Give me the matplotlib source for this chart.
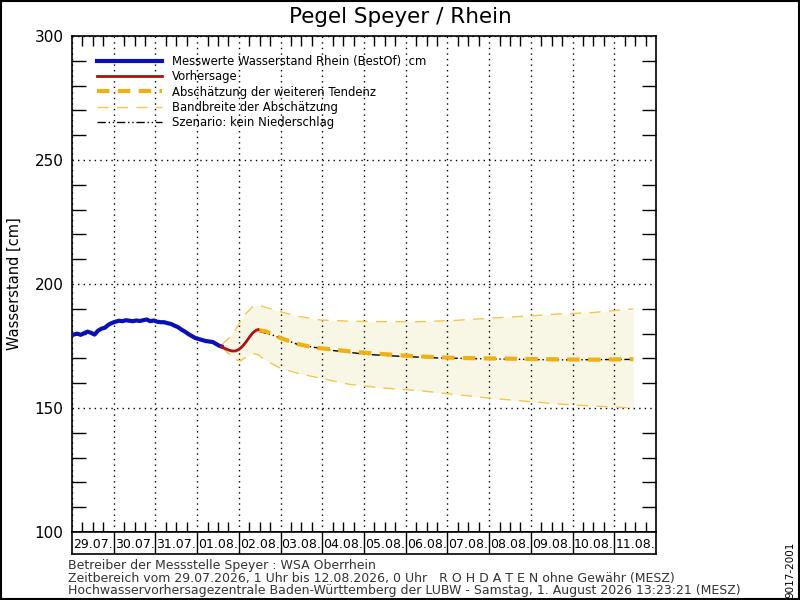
import matplotlib
matplotlib.use("Agg")
import matplotlib.pyplot as plt
from matplotlib.patches import Rectangle
from matplotlib.ticker import MultipleLocator, FixedLocator

plt.rcParams['font.family'] = ['DejaVu Sans']

# ---- data (x in hours since 29.07. 00:00) ----
meas_hours = [1, 3, 5, 7, 9, 11, 13, 15, 17, 19, 21, 23, 25, 27, 29, 31, 33, 35, 37, 39,
              41, 43, 45, 47, 49, 51, 53, 55, 57, 59, 61, 63, 65, 67, 69, 71, 73, 75, 77,
              79, 81, 83, 85, 86]
meas_vals = [179.6, 180.0, 179.5, 180.2, 180.8, 180.3, 179.6, 181.2, 182.0, 182.4, 183.6,
             184.3, 184.8, 185.2, 185.0, 185.4, 185.2, 185.0, 185.3, 185.1, 185.4, 185.7,
             185.0, 185.3, 184.8, 184.6, 184.6, 184.2, 183.9, 183.2, 182.6, 181.6, 180.8,
             179.8, 179.0, 178.2, 177.8, 177.4, 177.0, 176.8, 176.6, 175.8, 175.0, 174.8]

fc_hours = [86, 88, 90, 92, 94, 96, 98, 100, 102, 104, 106, 107]
fc_vals = [174.8, 174.0, 173.4, 173.0, 173.0, 173.6, 174.8, 176.5, 178.5, 180.3, 181.4, 181.6]

tend_hours = [107, 112, 120, 130, 140, 150, 160, 170, 180, 190, 200, 210, 220, 240, 260, 280, 300, 323]
tend_vals = [181.5, 180.8, 178.2, 175.8, 174.3, 173.6, 172.8, 172.2, 171.7, 171.2, 170.8,
             170.5, 170.2, 170.0, 169.8, 169.6, 169.5, 169.7]

scen_hours = [107, 115, 130, 150, 170, 190, 210, 240, 280, 323]
scen_vals = [181.0, 179.5, 175.6, 173.2, 171.6, 170.8, 170.2, 169.8, 169.4, 169.6]

band_hours = [86, 90, 94, 97, 100, 104, 107, 112, 120, 130, 143, 160, 180, 200, 220, 240,
              260, 280, 300, 323]
band_upper = [175.5, 178.0, 181.5, 185.0, 188.0, 191.0, 191.5, 190.5, 188.8, 187.0, 185.5,
              185.0, 184.8, 184.8, 185.3, 186.2, 187.0, 187.9, 188.5, 190.0]
band_lower = [174.5, 172.0, 169.5, 169.0, 170.5, 172.0, 171.5, 169.0, 166.0, 164.0, 162.0,
              159.5, 158.0, 157.0, 155.5, 154.0, 152.8, 151.6, 150.8, 150.0]

date_labels = ["29.07.", "30.07.", "31.07.", "01.08.", "02.08.", "03.08.", "04.08.",
               "05.08.", "06.08.", "07.08.", "08.08.", "09.08.", "10.08.", "11.08."]

legend_labels = ["Messwerte Wasserstand Rhein (BestOf)  cm", "Vorhersage",
                 "Abschätzung der weiteren Tendenz", "Bandbreite der Abschätzung",
                 "Szenario: kein Niederschlag"]

title = "Pegel Speyer / Rhein"
ylabel = "Wasserstand [cm]"
footer = ["Betreiber der Messstelle Speyer : WSA Oberrhein",
          "Zeitbereich vom 29.07.2026, 1 Uhr bis 12.08.2026, 0 Uhr   R O H D A T E N ohne Gewähr (MESZ)",
          "Hochwasservorhersagezentrale Baden-Württemberg der LUBW - Samstag, 1. August 2026 13:23:21 (MESZ)"]
code = "9017-2001"

ndays = len(date_labels)
xmax = ndays * 24

fig = plt.figure(figsize=(8, 6), dpi=100)
ax = fig.add_axes([0.09, 0.1133, 0.73, 0.8267])

ax.fill_between(band_hours, band_lower, band_upper, color='#f8f7e6', lw=0, zorder=1)
h_band, = ax.plot(band_hours, band_upper, color='#f3c84a', lw=1, dashes=(8, 6), zorder=2)
ax.plot(band_hours, band_lower, color='#f3c84a', lw=1, dashes=(8, 6), zorder=2)
h_scen, = ax.plot(scen_hours, scen_vals, color='black', lw=1, dashes=(6, 2, 1, 2, 1, 2), zorder=3)
h_tend, = ax.plot(tend_hours, tend_vals, color='#f0b010', lw=3, dashes=(3, 2), zorder=4)
h_meas, = ax.plot(meas_hours, meas_vals, color='#0a10b8', lw=3, zorder=5)
h_fc, = ax.plot(fc_hours, fc_vals, color='#b01010', lw=2, zorder=5)

ax.set_xlim(0, xmax)
ax.set_ylim(100, 300)

# grid
ax.xaxis.set_major_locator(MultipleLocator(24))
ax.xaxis.set_minor_locator(FixedLocator([d * 24 + o for d in range(ndays) for o in (6, 12, 18)]))
ax.yaxis.set_major_locator(MultipleLocator(50))
ax.yaxis.set_minor_locator(FixedLocator([v for v in range(110, 300, 10) if v % 50 != 0]))
ax.grid(True, which='major', color='black', lw=1, linestyle=(0, (1, 3)), zorder=0)
ax.tick_params(axis='x', which='major', length=0, labelbottom=False)
ax.tick_params(axis='x', which='minor', direction='in', length=7, top=True, bottom=True, width=1)
ax.tick_params(axis='y', which='major', length=0, labelsize=11, pad=6)
ax.tick_params(axis='y', which='minor', direction='in', length=10, left=True, right=True, width=1)
for s in ax.spines.values():
    s.set_linewidth(1.2)

ax.set_ylabel(ylabel, fontsize=10.5)
ax.yaxis.set_label_coords(-0.086, 0.5)
fig.text(0.5, 0.971, title, ha='center', va='center', fontsize=15.5)

leg = ax.legend([h_meas, h_fc, h_tend, h_band, h_scen], legend_labels,
                loc='upper left', bbox_to_anchor=(0.043, 0.962), frameon=False,
                fontsize=8.4, handlelength=5.6, handletextpad=0.85, labelspacing=0.2,
                borderpad=0, borderaxespad=0)

# date row
ax2 = fig.add_axes([0.09, 0.0767, 0.73, 0.0366])
ax2.set_xlim(0, xmax)
ax2.set_ylim(0, 1)
ax2.set_xticks([])
ax2.set_yticks([])
for d in range(1, ndays):
    ax2.axvline(d * 24, color='black', lw=1)
for d, lab in enumerate(date_labels):
    ax2.text(d * 24 + 12, 0.45, lab, ha='center', va='center', fontsize=9)
for s in ax2.spines.values():
    s.set_linewidth(1.2)

# footer
for i, line in enumerate(footer):
    fig.text(0.085, 0.057 - i * 0.0205, line, fontsize=9, ha='left', va='center', color='#333333')
fig.text(0.988, 0.05, code, rotation=90, fontsize=7.5, ha='center', va='center')

fig.add_artist(Rectangle((0.0008, 0.001), 0.998, 0.998, transform=fig.transFigure,
                         fill=False, ec='black', lw=1.5))

fig.savefig("out.png", dpi=100)
